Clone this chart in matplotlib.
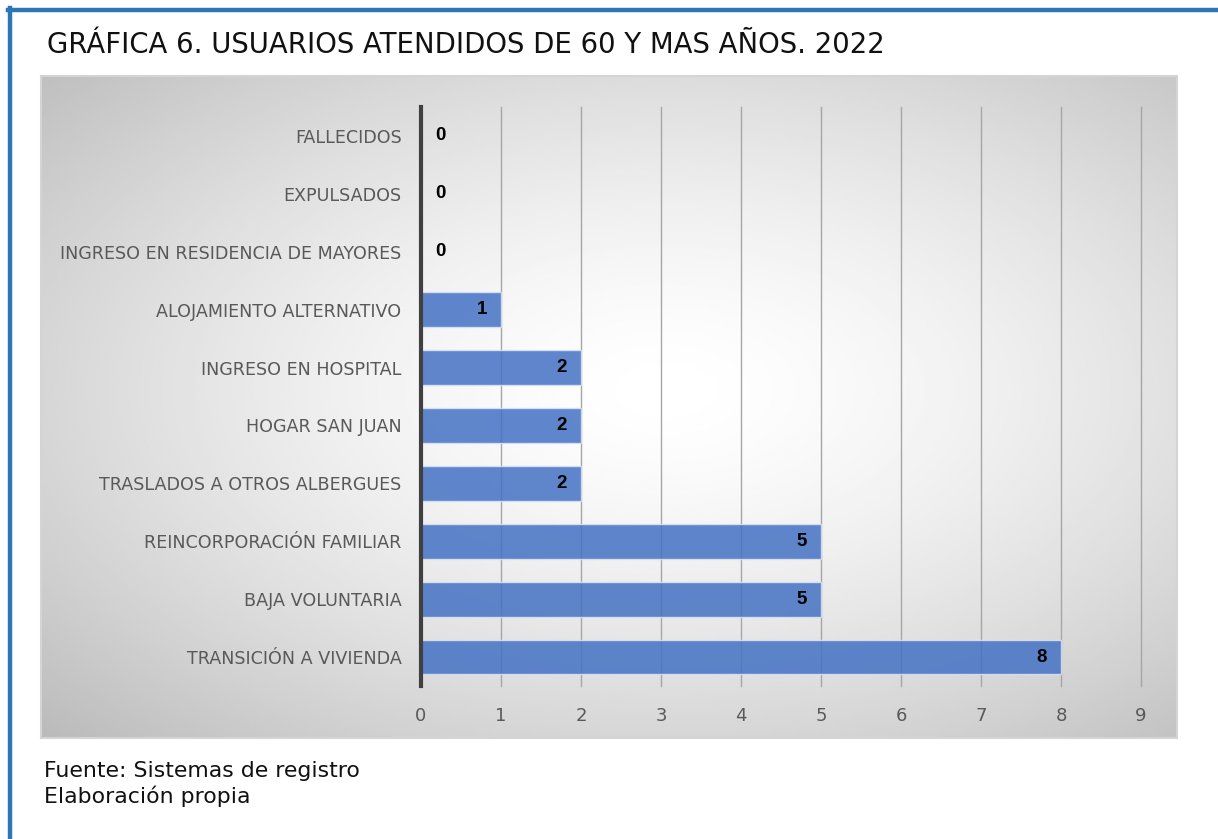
import numpy as np
import matplotlib
matplotlib.use("Agg")
import matplotlib.pyplot as plt

# datos (de abajo hacia arriba)
categorias = [
    "TRANSICIÓN A VIVIENDA",
    "BAJA VOLUNTARIA",
    "REINCORPORACIÓN FAMILIAR",
    "TRASLADOS A OTROS ALBERGUES",
    "HOGAR SAN JUAN",
    "INGRESO EN HOSPITAL",
    "ALOJAMIENTO ALTERNATIVO",
    "INGRESO EN RESIDENCIA DE MAYORES",
    "EXPULSADOS",
    "FALLECIDOS",
]
usuarios = [8, 5, 5, 2, 2, 2, 1, 0, 0, 0]
ticks_x = [0, 1, 2, 3, 4, 5, 6, 7, 8, 9]

titulo = "GRÁFICA 6. USUARIOS ATENDIDOS DE 60 Y MAS AÑOS. 2022"
fuente = "Fuente: Sistemas de registro\nElaboración propia"

W, H = 1218, 839
plt.rcParams['font.family'] = ['DejaVu Sans']

fig = plt.figure(figsize=(W / 100, H / 100), dpi=100)


def px_axes(x0, y0, x1, y1, **kw):
    # rectangulo en pixeles (origen arriba-izquierda)
    return fig.add_axes([x0 / W, 1 - y1 / H, (x1 - x0) / W, (y1 - y0) / H], **kw)


# marco azul arriba e izquierda
fig.add_artist(plt.Line2D([8 / W, 1], [1 - 10 / H, 1 - 10 / H], color="#2E75B6", lw=3.2))
fig.add_artist(plt.Line2D([10 / W, 10 / W], [0, 1 - 8 / H], color="#2E75B6", lw=3.2))

# fondo con degradado radial
bg = px_axes(41, 76, 1177, 738)
nx, ny = 400, 240
xx, yy = np.meshgrid(np.linspace(-1, 1, nx), np.linspace(-1, 1, ny))
d = np.sqrt(((xx - 0.1) / 1.1) ** 2 + ((yy + 0.05) / 1.05) ** 2) / np.sqrt(2)
d = np.clip(d, 0, 1)
val = 1.0 - 0.27 * d ** 1.5
bg.imshow(val, cmap="gray", vmin=0, vmax=1, aspect="auto", extent=[0, 1, 0, 1])
bg.set_xticks([])
bg.set_yticks([])
for s in bg.spines.values():
    s.set_color("#D4D4D4")
    s.set_linewidth(1.5)

# grafica de barras
ax = px_axes(421, 107, 1141, 686)
ax.patch.set_visible(False)
y = np.arange(len(categorias))
ax.barh(y, usuarios, height=0.6, color="#4472C4", alpha=0.85,
        edgecolor="#DCE4F2", linewidth=1.0, zorder=3)
ax.set_xlim(0, 9)
ax.set_ylim(-0.5, len(categorias) - 0.5)
ax.set_xticks(ticks_x)
ax.set_yticks(y)
ax.set_yticklabels(categorias, fontsize=12.6, color="#595959")
ax.tick_params(axis="x", length=0, pad=15, labelsize=13, labelcolor="#595959")
ax.tick_params(axis="y", length=0, pad=14)
ax.grid(axis="x", color="#A6A6A6", linewidth=1.0, zorder=1)
for gl in ax.get_xgridlines():
    gl.set_clip_on(False)
for s in ["top", "right", "bottom"]:
    ax.spines[s].set_visible(False)
ax.spines["left"].set_color("#404040")
ax.spines["left"].set_linewidth(3)
ax.spines["left"].set_zorder(4)

for yi, v in zip(y, usuarios):
    if v > 0:
        ax.annotate(str(v), (v, yi), xytext=(-10, 0), textcoords="offset points",
                    ha="right", va="center", fontsize=13.5, fontweight="bold",
                    family="Liberation Sans", color="black", zorder=5)
    else:
        ax.annotate(str(v), (0, yi), xytext=(10, 0), textcoords="offset points",
                    ha="left", va="center", fontsize=13.5, fontweight="bold",
                    family="Liberation Sans", color="black", zorder=5)

# titulo y pie
fig.text(47 / W, 1 - 45 / H, titulo, fontsize=19.8, color="#111111",
         ha="left", va="center")
fig.text(44 / W, 1 - 784 / H, fuente, fontsize=15.8, color="#111111",
         ha="left", va="center", linespacing=1.3)

fig.savefig("out.png", dpi=100)
